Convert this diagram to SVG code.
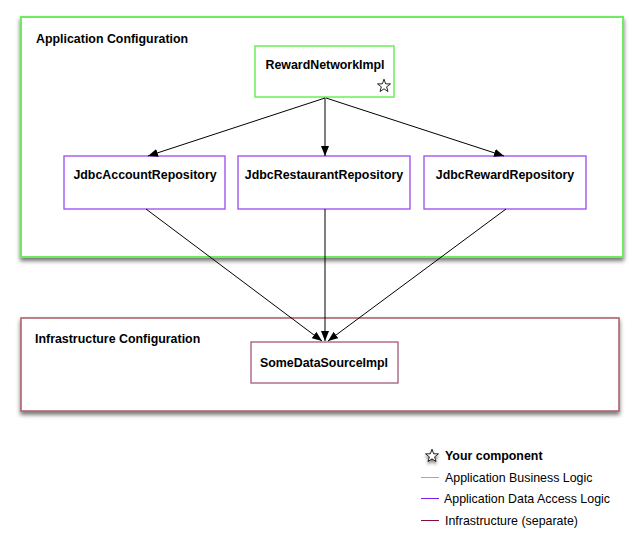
<svg xmlns="http://www.w3.org/2000/svg" width="639" height="539" viewBox="0 0 639 539">
<style>
text{font-family:"Liberation Sans",Arial,Helvetica,sans-serif;font-size:12.4px;fill:#000}
.b{font-weight:bold}
.c{text-anchor:middle}
.app{fill:#fff;stroke:#6fea5e;stroke-width:2}
.infra{fill:#fff;stroke:#b0636f;stroke-width:1.6}
.green{fill:#fff;stroke:#76ee63;stroke-width:1.6}
.purple{fill:#fff;stroke:#a356f0;stroke-width:1.4}
.mauve{fill:#fff;stroke:#a96485;stroke-width:1.4}
.con{stroke:#000;stroke-width:1;fill:none;marker-end:url(#ah)}
.star{fill:#fff;stroke:#000;stroke-width:1}
</style>
<defs>
<filter id="sh" x="-5%" y="-10%" width="110%" height="125%">
<feDropShadow dx="0" dy="3" stdDeviation="2" flood-color="#000" flood-opacity="0.55"/>
</filter>
<filter id="ssh" x="-50%" y="-50%" width="200%" height="220%">
<feDropShadow dx="0" dy="3" stdDeviation="2" flood-color="#000" flood-opacity="0.5"/>
</filter>
<marker id="ah" markerWidth="10" markerHeight="8" refX="10" refY="4" orient="auto" markerUnits="userSpaceOnUse">
<path d="M0,0 L10,4 L0,8 Z" fill="#000"/>
</marker>
<path id="starshape" d="M0,-8 L1.9,-2.6 L7.6,-2.5 L3.1,1 L4.7,6.5 L0,3.3 L-4.7,6.5 L-3.1,1 L-7.6,-2.5 L-1.9,-2.6 Z"/>
</defs>

<g id="app-config">
<rect class="app" x="21" y="17" width="602" height="240" filter="url(#sh)"/>
<text class="b" x="36" y="43">Application Configuration</text>
</g>

<g id="infra-config">
<rect class="infra" x="21" y="318" width="598" height="93" filter="url(#sh)"/>
<text class="b" x="35" y="343">Infrastructure Configuration</text>
</g>

<g id="RewardNetworkImpl">
<rect class="green" x="255" y="46" width="139" height="51"/>
<text class="b c" x="325" y="69">RewardNetworkImpl</text>
<use href="#starshape" class="star" transform="translate(384,86) scale(0.85)"/>
</g>

<g id="JdbcAccountRepository">
<rect class="purple" x="64" y="156" width="161" height="53"/>
<text class="b c" x="145" y="179">JdbcAccountRepository</text>
</g>

<g id="JdbcRestaurantRepository">
<rect class="purple" x="238" y="156" width="172" height="53"/>
<text class="b c" x="324" y="179">JdbcRestaurantRepository</text>
</g>

<g id="JdbcRewardRepository">
<rect class="purple" x="424" y="156" width="162" height="53"/>
<text class="b c" x="505" y="179">JdbcRewardRepository</text>
</g>

<g id="SomeDataSourceImpl">
<rect class="mauve" x="251" y="342" width="147" height="41"/>
<text class="b c" x="324" y="367">SomeDataSourceImpl</text>
</g>

<g id="connectors">
<line class="con" x1="325" y1="98" x2="148" y2="156"/>
<line class="con" x1="325" y1="98" x2="325" y2="156"/>
<line class="con" x1="326" y1="98" x2="504" y2="156"/>
<line class="con" x1="146" y1="209" x2="322" y2="341"/>
<line class="con" x1="325" y1="209" x2="325" y2="341"/>
<line class="con" x1="506" y1="209" x2="328" y2="341"/>
</g>

<g id="legend">
<use href="#starshape" class="star" transform="translate(432,456) scale(0.85)" filter="url(#ssh)"/>
<text class="b" x="445" y="460">Your component</text>
<line x1="421" y1="477.5" x2="439" y2="477.5" stroke="#55e63f" stroke-width="1"/>
<text x="445" y="482">Application Business Logic</text>
<line x1="421" y1="498.5" x2="439" y2="498.5" stroke="#7a1fe8" stroke-width="1"/>
<text x="444" y="503">Application Data Access Logic</text>
<line x1="421" y1="520.5" x2="439" y2="520.5" stroke="#80103a" stroke-width="1"/>
<text x="445" y="525">Infrastructure (separate)</text>
</g>
</svg>
